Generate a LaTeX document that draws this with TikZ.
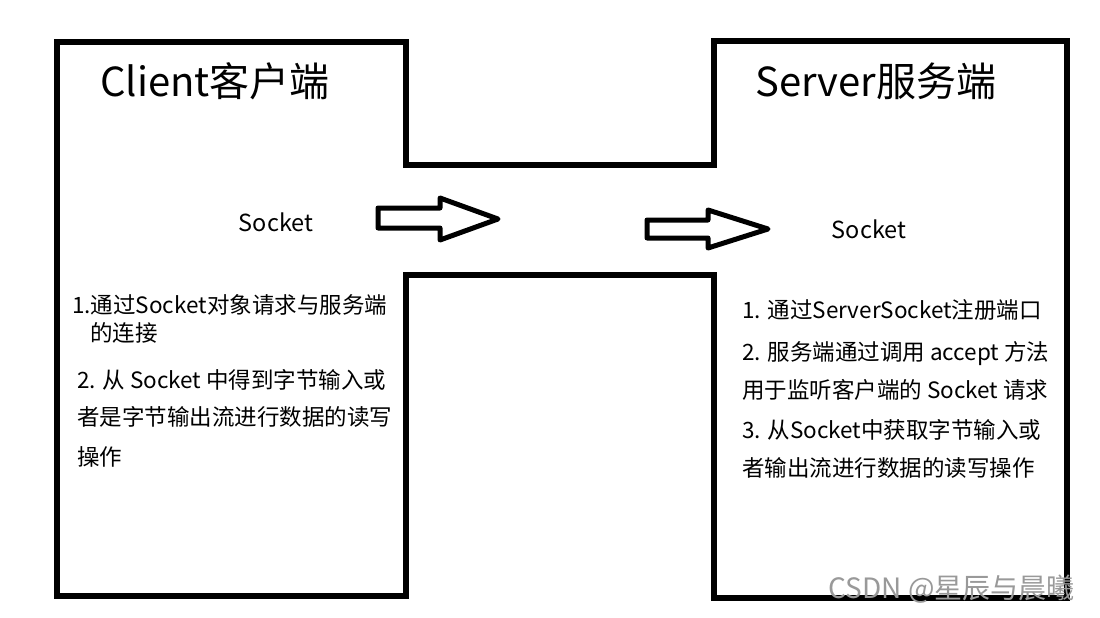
\documentclass[tikz,border=0pt]{standalone}
\usepackage{fontspec}
\setmainfont{Noto Sans CJK SC}
\begin{document}
\begin{tikzpicture}[x=1pt,y=-1pt,
  outline/.style={line width=6.5pt,line join=miter,draw=black},
  blockarrow/.style={line width=5pt,line join=round,draw=black,fill=white},
  title/.style={anchor=base west,inner sep=0pt,font=\fontsize{40}{42}\selectfont},
  sock/.style={inner sep=0pt,font=\fontsize{23.5}{25}\selectfont},
  body/.style={anchor=base west,inner sep=0pt,font=\fontsize{22.5}{24}\selectfont},
  wmark/.style={anchor=base east,inner sep=0pt,text=black!40,font=\fontsize{28}{30}\selectfont}]
\useasboundingbox (0,0) rectangle (1100,618);
\fill[white] (0,0) rectangle (1100,618);
% corner coordinates of the combined outline
\coordinate (lt) at (57,42);
\coordinate (ltr) at (406,42);
\coordinate (cht) at (406,165);
\coordinate (chtr) at (714,165);
\coordinate (rtl) at (714,41);
\coordinate (rtr) at (1067,41);
\coordinate (rbr) at (1067,598);
\coordinate (rbl) at (714,598);
\coordinate (chbr) at (714,275);
\coordinate (chb) at (406,275);
\coordinate (lbr) at (406,596);
\coordinate (lb) at (57,596);
\draw[outline] (lt) -- (ltr) -- (cht) -- (chtr) -- (rtl) -- (rtr) -- (rbr) -- (rbl) -- (chbr) -- (chb) -- (lbr) -- (lb) -- cycle;
% block arrows
\draw[blockarrow] (378,208) -- (440,208) -- (440,198) -- (498,219) -- (440,240) -- (440,228) -- (378,228) -- cycle;
\draw[blockarrow] (647,220) -- (708,220) -- (708,210) -- (768,229) -- (708,248) -- (708,238) -- (647,238) -- cycle;
% titles
\node[title] (ct) at (100,96) {Client客户端};
\node[title] (st) at (755,96) {Server服务端};
\node[sock] (cs) at (276,222) {Socket};
\node[sock] (ss) at (869,229) {Socket};
% client text
\node[body] (c1) at (72,313) {1.通过Socket对象请求与服务端};
\node[body] (c2) at (90,341) {的连接};
\node[body] (c3) at (77,388) {2. 从 Socket 中得到字节输入或};
\node[body] (c4) at (77,425) {者是字节输出流进行数据的读写};
\node[body] (c5) at (77,465) {操作};
% server text
\node[body] (s1) at (742,318) {1. 通过ServerSocket注册端口};
\node[body] (s2) at (742,360) {2. 服务端通过调用 accept 方法};
\node[body] (s3) at (742,398) {用于监听客户端的 Socket 请求};
\node[body] (s4) at (742,438) {3. 从Socket中获取字节输入或};
\node[body] (s5) at (742,476) {者输出流进行数据的读写操作};
% watermark
\node[wmark] (wm) at (1075,598) {CSDN @星辰与晨曦};
\end{tikzpicture}
\end{document}
